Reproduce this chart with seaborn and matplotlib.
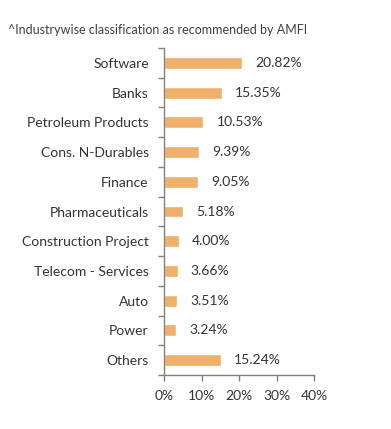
import matplotlib
matplotlib.use("Agg")
import matplotlib.pyplot as plt
import seaborn as sns
import numpy as np
import pandas as pd

# Data
sectors = ["Software", "Banks", "Petroleum Products", "Cons. N-Durables", "Finance",
           "Pharmaceuticals", "Construction Project", "Telecom - Services", "Auto",
           "Power", "Others"]
weights = [20.82, 15.35, 10.53, 9.39, 9.05, 5.18, 4.00, 3.66, 3.51, 3.24, 15.24]
x_ticks = [0, 10, 20, 30, 40]

sns.set_theme(style="white")
plt.rcParams['font.family'] = ['Lato', 'DejaVu Sans']

df = pd.DataFrame({"sector": sectors, "weight": weights})

fig = plt.figure(figsize=(3.91, 4.29), dpi=100)
ax = fig.add_axes([164 / 391, 1 - 375 / 429, 150 / 391, (375 - 48) / 429])

sns.barplot(data=df, x="weight", y="sector", color="#F0B06A", saturation=1,
            width=0.4, ax=ax, orient="h")

text_col = "#333333"
for i, v in enumerate(weights):
    ax.annotate(f"{v:.2f}%", xy=(v, i), xytext=(13, 0), textcoords="offset pixels",
                va="center", ha="left", fontsize=10, color=text_col)

ax.set_xlim(0, 40)
ax.set_ylim(len(sectors) - 0.5, -0.5)
ax.set_xticks(x_ticks)
ax.set_xticklabels([f"{t}%" for t in x_ticks], fontsize=10, color=text_col)
ax.set_yticks(range(len(sectors)))
ax.set_yticklabels(sectors, fontsize=10, color=text_col)
ax.set_yticks(np.arange(-0.5, len(sectors)), minor=True)
ax.tick_params(axis="y", which="major", length=0, pad=11)
ax.tick_params(axis="y", which="minor", length=4, width=1, color="#808080", direction="out", left=True)
ax.tick_params(axis="x", length=4, width=1, color="#808080", direction="out", bottom=True, pad=7)
ax.set_xlabel("")
ax.set_ylabel("")

for s in ["top", "right"]:
    ax.spines[s].set_visible(False)
for s in ["left", "bottom"]:
    ax.spines[s].set_color("#808080")
    ax.spines[s].set_linewidth(1)

fig.text(8 / 391, 1 - 30 / 429, "^Industrywise classification as recommended by AMFI",
         fontsize=9, color="#404040", va="center", ha="left")

fig.savefig("out.png", dpi=100, facecolor="white")
